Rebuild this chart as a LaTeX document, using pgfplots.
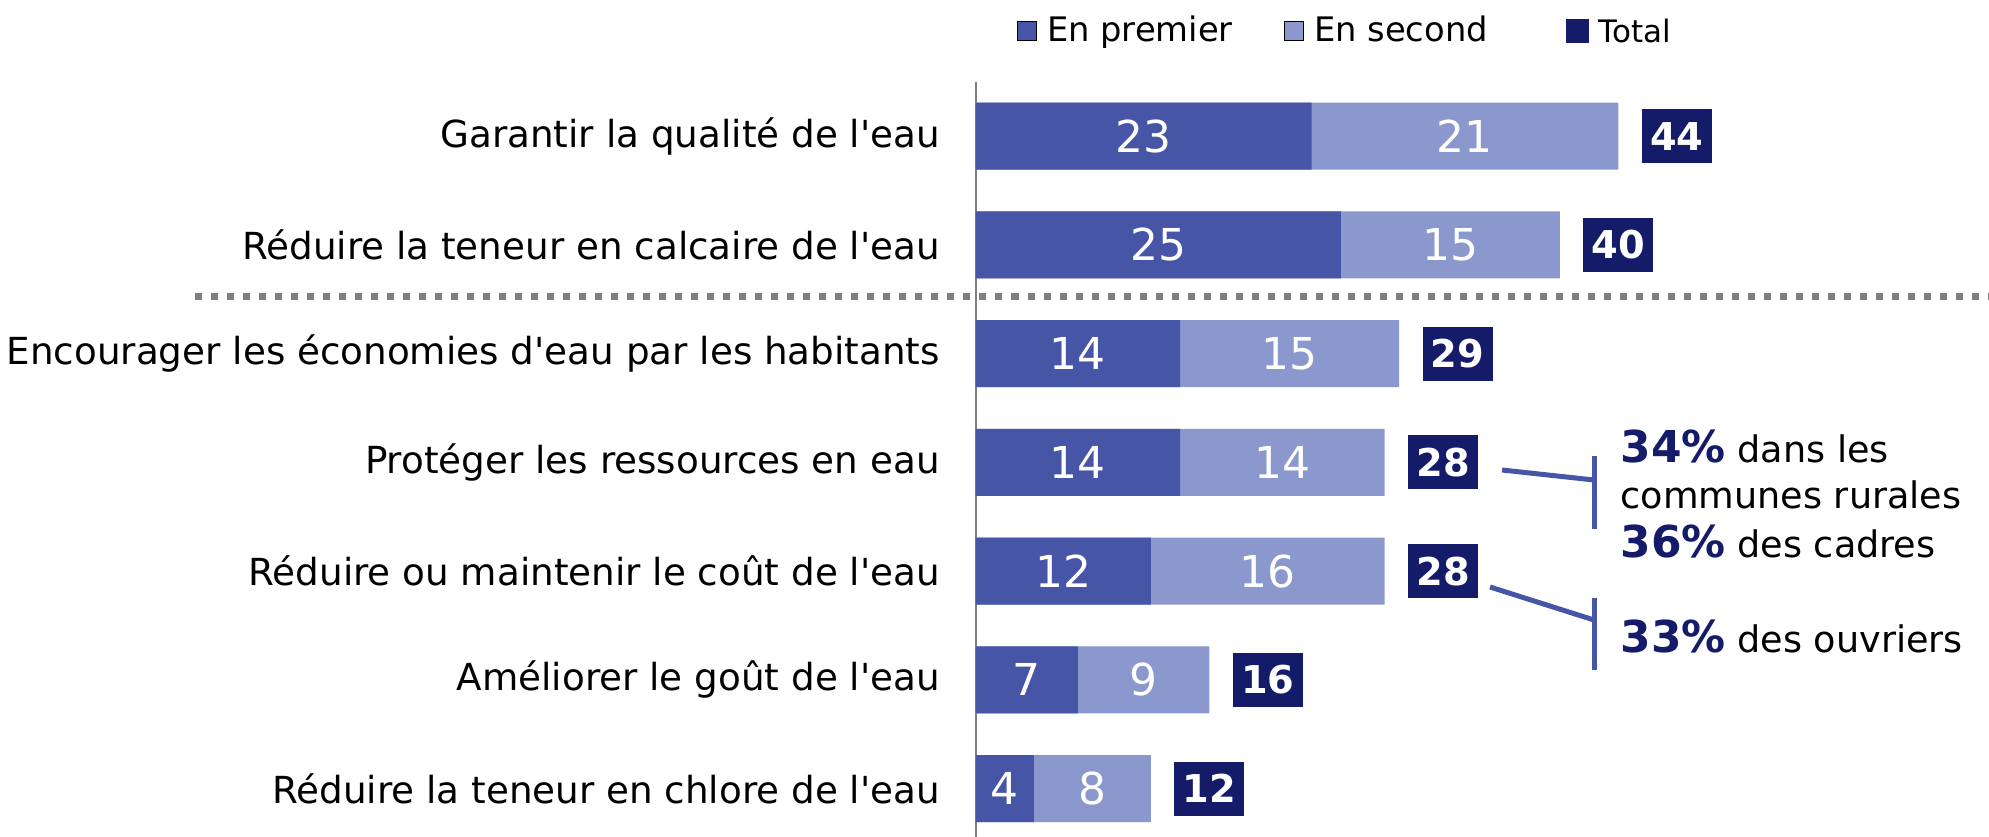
\documentclass[border=0pt]{standalone}
\usepackage{fontspec}
\setmainfont{DejaVu Sans}
\usepackage{pgfplots}
\pgfplotsset{compat=1.18}
\usepackage{pgfplotstable}
\usetikzlibrary{calc}

\definecolor{premier}{RGB}{71,85,166}
\definecolor{second}{RGB}{139,152,206}
\definecolor{totalc}{RGB}{20,28,106}
\definecolor{sepgray}{RGB}{127,127,127}

\newcommand\lab{\fontsize{10.6}{12.7}\selectfont}
\newcommand\leg{\fontsize{9.6}{11.5}\selectfont}
\newcommand\tot{\fontsize{8.8}{10.5}\selectfont}
\newcommand\val{\fontsize{12.5}{15}\selectfont}
\newcommand\pct{\fontsize{12.5}{15}\selectfont\bfseries\color{totalc}}
\newcommand\q{\textquotesingle}

% y = rang de la ligne, p = en premier, s = en second, t = total
\pgfplotstableread{
y p  s  t
0 23 21 44
1 25 15 40
2 14 15 29
3 14 14 28
4 12 16 28
5 7  9  16
6 4  8  12
}\data

\begin{document}
\begin{tikzpicture}
\begin{axis}[
  name=ax, at={(0,0)}, anchor=north west,
  scale only axis, width=10.14cm, height=7.55cm,
  xmin=0, xmax=69.45, ymin=-0.497, ymax=6.449, y dir=reverse,
  axis x line=none, axis y line*=left,
  y axis line style={draw=sepgray, line width=0.02cm, -},
  ytick={0,...,6},
  yticklabels={Garantir la qualité de l\q eau,
    Réduire la teneur en calcaire de l\q eau,
    Encourager les économies d\q eau par les habitants,
    Protéger les ressources en eau,
    Réduire ou maintenir le coût de l\q eau,
    Améliorer le goût de l\q eau,
    Réduire la teneur en chlore de l\q eau},
  major tick length=0pt, ytick style={draw=none},
  y tick label style={font=\lab, inner sep=0pt, anchor=east, xshift=-0.35cm},
  /pgf/number format/assume math mode=true,
  clip=false,
  legend columns=3,
  legend style={at={(axis cs:2.81,-0.966)}, anchor=west, draw=none, fill=none,
    inner sep=0pt, outer sep=0pt, font=\leg, nodes={inner sep=0pt},
    /tikz/every odd column/.style={column sep=0.1cm},
    /tikz/every even column/.style={column sep=0.51cm}},
  legend image code/.code={\fill[#1] (0cm,-0.095cm) rectangle (0.19cm,0.095cm);},
]
\addlegendimage{fill=premier}\addlegendentry{En premier}
\addlegendimage{fill=second}\addlegendentry{En second\rule{0.27cm}{0pt}}
\addlegendimage{legend image code/.code={\fill[totalc] (0cm,-0.11cm) rectangle (0.21cm,0.11cm);}}
\addlegendentry{\tot\raisebox{-0.04cm}{Total}}

% barres : le total (clair) dessous, "en premier" (fonce) par-dessus
\addplot[xbar, bar width=0.67cm, bar shift=0pt, fill=second, draw=none, forget plot]
  table[x=t, y=y] {\data};
\addplot[xbar, bar width=0.67cm, bar shift=0pt, fill=premier, draw=none, forget plot]
  table[x=p, y=y] {\data};

% valeurs dans les segments
\pgfplotsset{lbl/.style={only marks, mark=*, mark size=0pt, mark options={draw=none, fill=none},
  forget plot, nodes near coords, point meta=explicit}}
\addplot[lbl, node near coord style={anchor=center, text=white, font=\val, inner sep=0pt}]
  table[x expr=\thisrow{p}/2, y=y, meta=p] {\data};
\addplot[lbl, node near coord style={anchor=center, text=white, font=\val, inner sep=0pt}]
  table[x expr=\thisrow{p}+\thisrow{s}/2, y=y, meta=s] {\data};
% totaux
\addplot[lbl, node near coord style={anchor=center, text=white, fill=totalc,
    font=\fontsize{10.9}{13}\selectfont\bfseries, inner sep=0pt,
    minimum width=0.7cm, minimum height=0.54cm}]
  table[x expr=\thisrow{t}+4, y=y, meta=t] {\data};
\end{axis}

% repere en pixels de la figure (0,0 en haut a gauche)
\begin{scope}[shift={($(ax.north west)+(-9.75cm,0.82cm)$)}, x=0.01cm, y=-0.01cm]
  \pgfresetboundingbox
  \path[use as bounding box] (0,0) rectangle (1989,837);
  \draw[sepgray, line width=0.07cm, dash pattern=on 0.07cm off 0.09cm] (195,297) -- (1989,297);
  \draw[premier, line width=0.05cm] (1502,470) -- (1594,480);
  \draw[premier, line width=0.05cm] (1594,456) -- (1594,529);
  \draw[premier, line width=0.05cm] (1490,587) -- (1594,620);
  \draw[premier, line width=0.05cm] (1594,598) -- (1594,670);
  \begin{scope}[every node/.style={anchor=base west, inner sep=0pt, font=\fontsize{10.4}{12.5}\selectfont}]
    \node at (1620,463) {{\pct 34\%} dans les};
    \node at (1620,508) {communes rurales};
    \node at (1620,557) {{\pct 36\%} des cadres};
    \node at (1620,652) {{\pct 33\%} des ouvriers};
  \end{scope}
\end{scope}
\end{tikzpicture}
\end{document}
